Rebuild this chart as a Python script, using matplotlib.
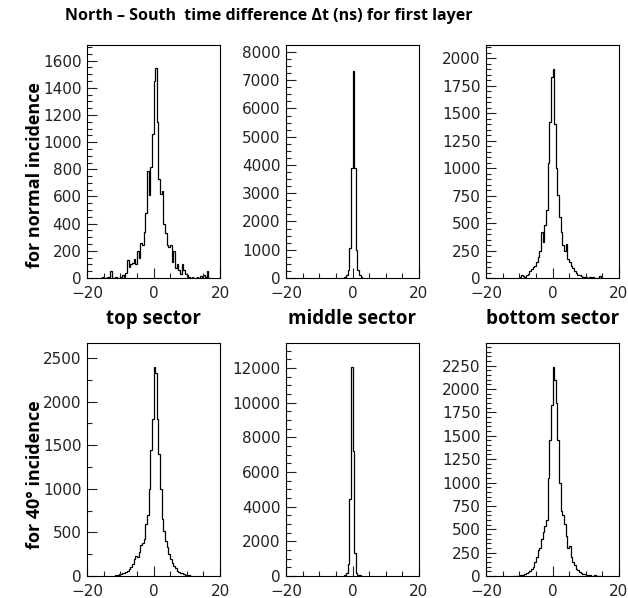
import numpy as np
import matplotlib
matplotlib.use("Agg")
import matplotlib.pyplot as plt
from matplotlib.ticker import MultipleLocator, FixedLocator

# bin width 0.5 ns; each list starts at the given left edge
BIN = 0.5

# top row: normal incidence
top_lo = -16.0
top_counts = [0, 10, 0, 0, 5, 0, 50, 0,
              0, 5, 0, 0, 10, 20, 10, 40,
              130, 80, 100, 110, 140, 100, 200, 150,
              260, 240, 340, 480, 790, 610, 820, 1060,
              1450, 1545, 1150, 730, 620, 640, 400, 330,
              240, 230, 240, 120, 200, 70, 100, 60,
              30, 100, 60, 30, 20, 10, 0, 5,
              0, 0, 5, 0, 15, 0, 20, 10,
              50, 0]

mid_lo = -3.0
mid_counts = [15, 40, 100, 300, 1050, 3900, 7330, 3900, 1000, 300, 100, 40, 15]

bot_lo = -10.0
bot_counts = [10, 30, 20, 10, 30, 40, 60, 80, 100, 110,
              150, 190, 250, 420, 330, 480, 620, 1050, 1420, 1830,
              1905, 1400, 1000, 760, 560, 420, 300, 250, 310, 170,
              150, 110, 90, 60, 50, 30, 25, 15, 10, 10,
              5, 0, 5, 0, 5, 0, 0, 0, 15]

# bottom row: 40 degree incidence
top40_lo = -12.0
top40_counts = [5, 10, 10, 20, 20, 30, 40, 50, 60, 80,
                100, 140, 200, 230, 220, 280, 360, 380, 420, 600,
                700, 1000, 1450, 1800, 2400, 2330, 1800, 1400, 1000, 650,
                520, 400, 330, 250, 190, 150, 110, 90, 60, 50,
                40, 30, 20, 15, 10, 10, 5]

mid40_lo = -2.5
mid40_counts = [50, 150, 700, 4450, 12050, 7200, 1300, 200, 60, 30]

bot40_lo = -12.0
bot40_counts = [5, 0, 5, 5, 10, 10, 15, 20, 30, 40,
                50, 70, 100, 150, 200, 280, 300, 400, 470, 540,
                600, 1050, 1450, 1830, 2230, 2100, 1850, 1450, 1000, 700,
                650, 560, 430, 300, 320, 200, 150, 120, 80, 60,
                40, 30, 20, 20, 15, 10, 10, 5, 5, 10,
                5, 0, 5]

panels = [
    (top_lo, top_counts, 1715, 200, 50),
    (mid_lo, mid_counts, 8245, 1000, 250),
    (bot_lo, bot_counts, 2122, 250, 50),
    (top40_lo, top40_counts, 2672, 500, 250),
    (mid40_lo, mid40_counts, 13440, 2000, 500),
    (bot40_lo, bot40_counts, 2492, 250, 50),
]

col_titles = ["top sector", "middle sector", "bottom sector"]
row_labels = ["for normal incidence", "for 40° incidence"]
title = "North – South  time difference Δt (ns) for first layer"

W, H = 628, 598
fig = plt.figure(figsize=(W / 100, H / 100), dpi=100)

lefts = [87, 286, 486]
tops = [45, 343]
aw, ah = 133, 233

bold = dict(family=["Open Sans", "DejaVu Sans"], fontweight="bold")

for k, (lo, counts, ymax, major, minor) in enumerate(panels):
    r, c = divmod(k, 3)
    ax = fig.add_axes([lefts[c] / W, 1 - (tops[r] + ah) / H, aw / W, ah / H])
    counts = np.array(counts, dtype=float)
    edges = lo + BIN * np.arange(len(counts) + 1)
    ax.stairs(counts, edges, color="black", linewidth=0.9)
    ax.set_xlim(-20, 20)
    ax.set_ylim(0, ymax)
    ax.xaxis.set_major_locator(FixedLocator([-20, 0, 20]))
    ax.xaxis.set_minor_locator(MultipleLocator(5))
    ax.yaxis.set_major_locator(MultipleLocator(major))
    ax.yaxis.set_minor_locator(MultipleLocator(minor))
    ax.tick_params(which="both", direction="in", top=False, right=False,
                   width=0.8, labelsize=11, colors="#222222")
    ax.tick_params(axis="x", pad=6)
    ax.tick_params(axis="y", pad=4)
    ax.tick_params(which="major", length=7)
    ax.tick_params(which="minor", length=3.5)
    for s in ax.spines.values():
        s.set_linewidth(0.8)
    if r == 1:
        ax.set_title(col_titles[c], fontsize=13.5, pad=14, **bold)

fig.text(269 / W, 1 - 16 / H, title, ha="center", va="center", fontsize=11.5, **bold)
fig.text(35 / W, 1 - 175 / H, row_labels[0], rotation=90, ha="center", va="center",
         fontsize=13, **bold)
fig.text(35 / W, 1 - 475 / H, row_labels[1], rotation=90, ha="center", va="center",
         fontsize=13, **bold)

fig.savefig("out.png", dpi=100)
